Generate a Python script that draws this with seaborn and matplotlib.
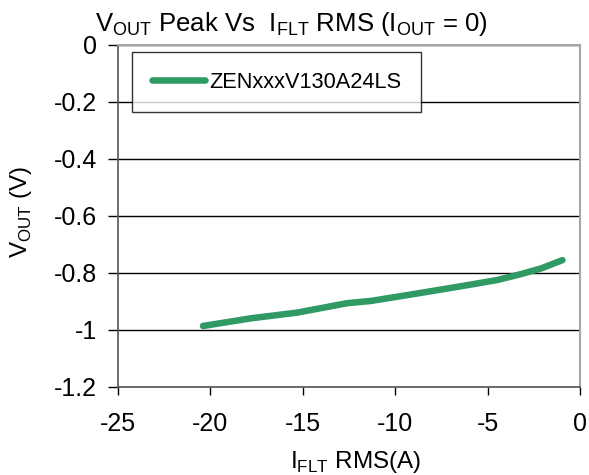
import matplotlib
matplotlib.use("Agg")
import pandas as pd
import seaborn as sns
from matplotlib import pyplot as plt

i_flt = [-20.4, -17.8, -15.3, -12.6, -11.3, -9.0, -6.3, -4.5, -3.2, -2.1, -0.95]
v_out = [-0.986, -0.959, -0.939, -0.906, -0.898, -0.874, -0.845, -0.825, -0.804, -0.784, -0.755]
series_name = "ZENxxxV130A24LS"

x_ticks = [-25, -20, -15, -10, -5, 0]
y_ticks = [-1.2, -1, -0.8, -0.6, -0.4, -0.2, 0]
y_tick_labels = ["-1.2", "-1", "-0.8", "-0.6", "-0.4", "-0.2", "0"]

sns.set_style("white")
plt.rcParams['font.family'] = ['Liberation Sans', 'DejaVu Sans']
plt.rcParams['mathtext.fontset'] = 'custom'
plt.rcParams['mathtext.rm'] = 'Liberation Sans'
plt.rcParams['text.color'] = 'black'

data = pd.DataFrame({"I_FLT": i_flt, "V_OUT": v_out, "series": series_name})

fig = plt.figure(figsize=(5.89, 4.75), dpi=100)
ax = fig.add_axes([0.2003, 0.1853, 0.7844, 0.72])

sns.lineplot(data=data, x="I_FLT", y="V_OUT", hue="series", palette=["#2f9a63"],
             linewidth=4.7, ax=ax, sort=False, solid_capstyle="round")

ax.set_xlim(-25, 0)
ax.set_ylim(-1.2, 0)
ax.set_xticks(x_ticks)
ax.set_xticklabels([str(t) for t in x_ticks])
ax.set_yticks(y_ticks)
ax.set_yticklabels(y_tick_labels)
ax.yaxis.grid(True, color="black", linewidth=1.0)
ax.set_axisbelow(True)
ax.tick_params(axis="both", direction="out", width=1, color="black",
               labelsize=18, labelcolor="black")
ax.tick_params(axis="y", length=7, pad=8)
ax.tick_params(axis="x", length=6, pad=12)
ax.tick_params(left=True, bottom=True)

for side in ["left", "bottom"]:
    ax.spines[side].set_color("#555555")
    ax.spines[side].set_linewidth(1.2)
for side in ["top", "right"]:
    ax.spines[side].set_color("#a6a6a6")
    ax.spines[side].set_linewidth(1.5)

ax.set_xlabel("")
ax.set_ylabel("")
fig.text(0.0365, 0.554, r"V$_{\mathregular{OUT}}$ (V)", rotation=90, ha="center", va="center", fontsize=17.5)
fig.text(0.604, 0.0147, r"I$_{\mathregular{FLT}}$ RMS(A)", ha="center", va="baseline", fontsize=17.5)
fig.text(0.494, 0.935, r"V$_{\mathregular{OUT}}$ Peak Vs  I$_{\mathregular{FLT}}$ RMS (I$_{\mathregular{OUT}}$ = 0)",
         ha="center", va="baseline", fontsize=18.5)

leg = ax.legend(loc="upper left", bbox_to_anchor=(0.0303, 0.9795), frameon=True, fancybox=False,
                edgecolor="black", fontsize=15.7, handlelength=2.45, handletextpad=0.2,
                borderpad=0.9, borderaxespad=0)
leg.get_frame().set_linewidth(1.0)
leg.get_frame().set_facecolor("white")
for line in leg.get_lines():
    line.set_linewidth(4.7)

fig.savefig("out.png", dpi=100)
